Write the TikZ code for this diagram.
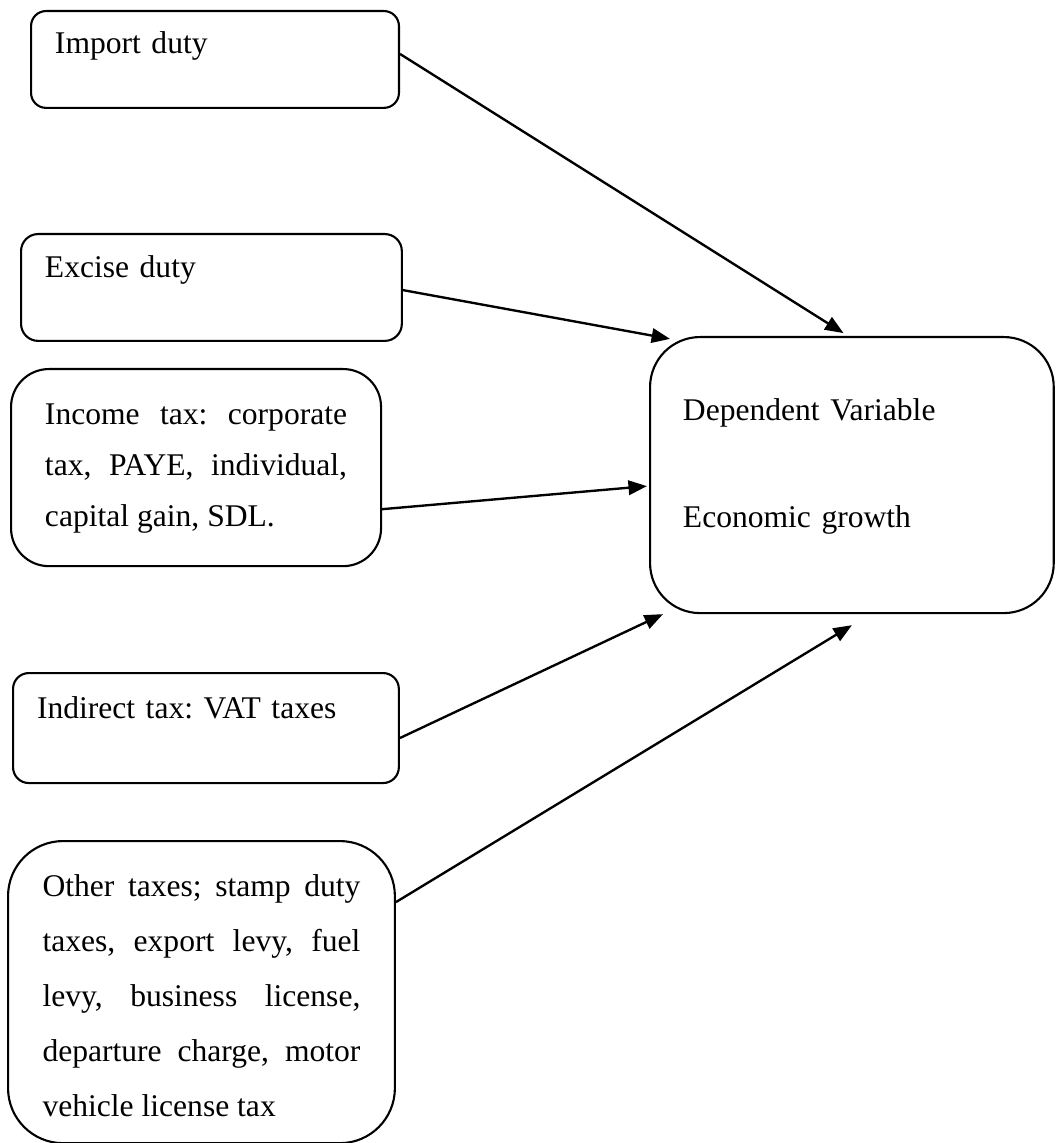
\documentclass[tikz,border=0pt]{standalone}
\usepackage{fontspec}
\setmainfont{Liberation Serif}
\usetikzlibrary{arrows.meta}
\hyphenpenalty=10000
\exhyphenpenalty=10000
\tolerance=10000
\frenchspacing

\begin{document}
\begin{tikzpicture}[
x=0.38pt, y=-0.38pt,
every node/.style={
    draw,
    line width=0.8pt,
    anchor=north west,
    inner ysep=0pt,
    font=\fontsize{12}{20.9}\selectfont
},
arrow/.style={-{Triangle[length=7pt,width=5.5pt]}, line width=0.9pt}
]
\useasboundingbox (0,0) rectangle (1055,1143);

\node (import) [rounded corners=5.7pt, inner xsep=9.1pt, text width=121.6pt,
  align=left, text height=16.3pt, text depth=20.5pt] at (30,10) {Import duty};

\node (excise) [rounded corners=6.5pt, inner xsep=9.1pt, text width=126.5pt,
  align=left, text height=16.7pt, text depth=23.9pt] at (20,233) {Excise duty};

\node (income) [rounded corners=14.4pt, inner xsep=12.9pt, text width=114.8pt,
  align=justify, text height=20.9pt, text depth=54pt,
  font=\fontsize{12}{19.4}\selectfont] at (10,368) {
Income tax: corporate tax, PAYE, individual, capital gain, SDL.
};

\node (indirect) [rounded corners=6pt, inner xsep=9.1pt, text width=128.4pt,
  align=left, text height=17.1pt, text depth=24.7pt] at (12,672) {Indirect tax: VAT taxes};

\node (other) [rounded corners=20.9pt, inner xsep=13.1pt, text width=120.8pt,
  align=justify, text height=20.9pt, text depth=93.9pt] at (7,840) {
Other taxes; stamp duty taxes, export levy, fuel levy, business license, departure charge, motor vehicle license tax
};

\node (growth) [rounded corners=19pt, inner xsep=12.5pt, text width=128.4pt,
  align=left, text height=31.9pt, text depth=73pt,
  font=\fontsize{12}{20.3}\selectfont] at (649,336) {
Dependent Variable\\[20.3pt]
Economic growth
};

\draw[arrow] ([yshift=2.1pt]import.east) -- ([xshift=-3.2pt,yshift=1.1pt]growth.north);
\draw[arrow] ([yshift=-1pt]excise.east) -- ([xshift=8pt,yshift=-1.1pt]growth.north west);
\draw[arrow] ([yshift=-15.8pt]income.east) -- ([xshift=-0.8pt,yshift=-4.2pt]growth.west);
\draw[arrow] ([yshift=-3.8pt]indirect.east) -- ([xshift=5.3pt]growth.south west);
\draw[arrow] ([yshift=-23.6pt]other.north east) -- ([yshift=-4.2pt]growth.south);

\end{tikzpicture}
\end{document}
